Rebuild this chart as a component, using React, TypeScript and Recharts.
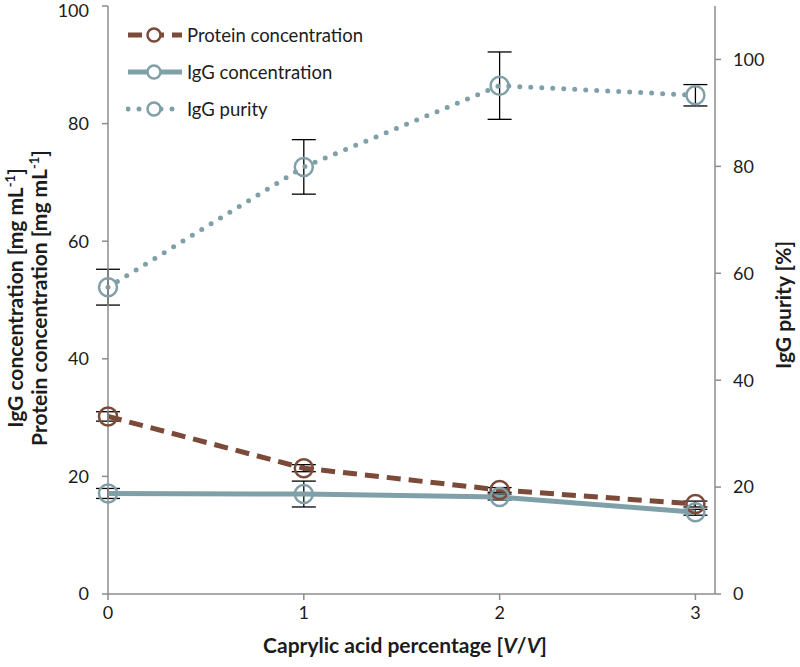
import { ComposedChart, Line, XAxis, YAxis, ErrorBar, Legend } from 'recharts';

// caprylic acid percentage [V/V]
const acid = [0, 1, 2, 3];
// mg/mL, left axis
const protein = [30.2, 21.4, 17.7, 15.3];
const proteinErr = [0.8, 0.6, 0.4, 0.5];
const igg = [17.1, 17.0, 16.5, 13.9];
const iggErr = [0.85, 2.2, 0.5, 0.5];
// %, right axis
const purity = [57.4, 79.9, 95.1, 93.3];
const purityErr = [3.35, 5.1, 6.3, 2.0];

const leftTicks = [0, 20, 40, 60, 80, 100];
const rightTicks = [0, 20, 40, 60, 80, 100];
const xTicks = [0, 1, 2, 3];

const BROWN = '#7b4a38';
const TEAL = '#7fa0a8';
const AXIS = '#8c8c8c';
const TEXT = '#1c1c1c';
const FONT = 'Lato, "Open Sans", sans-serif';

const data = acid.map((x, i) => ({
  x,
  protein: protein[i],
  proteinErr: proteinErr[i],
  igg: igg[i],
  iggErr: iggErr[i],
  purity: purity[i],
  purityErr: purityErr[i],
}));

const series = [
  { name: 'Protein concentration', color: BROWN, dash: '14 8', cap: 'butt' },
  { name: 'IgG concentration', color: TEAL, dash: undefined, cap: 'butt' },
  { name: 'IgG purity', color: TEAL, dash: '0 11', cap: 'round' },
];

function ringDot(color: string) {
  return (props: any) => {
    const { cx, cy, index } = props;
    if (cx == null || cy == null) return <g key={index} />;
    return <circle key={index} cx={cx} cy={cy} r={9} fill="none" stroke={color} strokeWidth={2.5} />;
  };
}

function LegendBox() {
  return (
    <div style={{ fontFamily: FONT, fontSize: 18.5, color: TEXT }}>
      {series.map((s) => (
        <div key={s.name} style={{ display: 'flex', alignItems: 'center', height: 37 }}>
          <svg width={58} height={20} style={{ marginRight: 3 }}>
            <line x1={2} x2={56} y1={10} y2={10} stroke={s.color} strokeWidth={5}
              strokeDasharray={s.dash} strokeLinecap={s.cap as any} />
            <circle cx={28} cy={10} r={6.5} fill="#fff" stroke={s.color} strokeWidth={2.5} />
          </svg>
          <span>{s.name}</span>
        </div>
      ))}
    </div>
  );
}

const LeftTitle = () => (
  <g fontFamily={FONT} fontWeight="bold" fontSize={21} fill={TEXT}>
    <text x={23} y={298} textAnchor="middle" transform="rotate(-90, 23, 298)">
      IgG concentration [mg mL<tspan dy={-8} fontSize={13}>-1</tspan><tspan dy={8}>]</tspan>
    </text>
    <text x={47} y={298} textAnchor="middle" transform="rotate(-90, 47, 298)">
      Protein concentration [mg mL<tspan dy={-8} fontSize={13}>-1</tspan><tspan dy={8}>]</tspan>
    </text>
  </g>
);

const RightTitle = () => (
  <text x={791} y={305} textAnchor="middle" transform="rotate(-90, 791, 305)"
    fontFamily={FONT} fontWeight="bold" fontSize={21} fill={TEXT}>
    IgG purity [%]
  </text>
);

const XTitle = () => (
  <text x={405} y={653} textAnchor="middle" fontFamily={FONT} fontWeight="bold" fontSize={21} fill={TEXT}>
    Caprylic acid percentage [<tspan fontStyle="italic">V</tspan>/<tspan fontStyle="italic">V</tspan>]
  </text>
);

const tickStyle = { fill: TEXT, fontSize: 18, fontFamily: FONT };

export default function App() {
  return (
    <div style={{ position: 'absolute', left: 0, top: 0, background: '#fff' }}>
      <ComposedChart width={800} height={667} data={data}
        margin={{ top: 6, right: 0, bottom: 0, left: 0 }}>
        <XAxis dataKey="x" type="number" domain={[0, 3.1]} ticks={xTicks} height={73}
          stroke={AXIS} strokeWidth={1.5} tickSize={6} tickMargin={6} tick={tickStyle}
          label={{ content: () => <XTitle /> }} />
        <YAxis yAxisId="left" orientation="left" domain={[0, 100]} ticks={leftTicks} width={108}
          stroke={AXIS} strokeWidth={1.5} tickSize={6} tickMargin={13} tick={tickStyle}
          label={{ content: () => <LeftTitle /> }} />
        <YAxis yAxisId="right" orientation="right" domain={[0, 110]} ticks={rightTicks} width={85}
          stroke={AXIS} strokeWidth={1.5} tickSize={6} tickMargin={12} tick={tickStyle}
          label={{ content: () => <RightTitle /> }} />
        <Legend layout="vertical" align="center" verticalAlign="middle"
          wrapperStyle={{ left: 126, top: 16, width: 280 }} content={() => <LegendBox />} />
        <Line yAxisId="left" dataKey="protein" name="Protein concentration" stroke={BROWN}
          strokeWidth={5} strokeDasharray="14 8" dot={ringDot(BROWN)} activeDot={false}
          isAnimationActive={false}>
          <ErrorBar dataKey="proteinErr" width={12} stroke="#000" strokeWidth={1.3} direction="y" />
        </Line>
        <Line yAxisId="left" dataKey="igg" name="IgG concentration" stroke={TEAL}
          strokeWidth={5} dot={ringDot(TEAL)} activeDot={false} isAnimationActive={false}>
          <ErrorBar dataKey="iggErr" width={12} stroke="#000" strokeWidth={1.3} direction="y" />
        </Line>
        <Line yAxisId="right" dataKey="purity" name="IgG purity" stroke={TEAL}
          strokeWidth={5} strokeDasharray="0 11" strokeLinecap="round" dot={ringDot(TEAL)}
          activeDot={false} isAnimationActive={false}>
          <ErrorBar dataKey="purityErr" width={12} stroke="#000" strokeWidth={1.3} direction="y" />
        </Line>
      </ComposedChart>
    </div>
  );
}
